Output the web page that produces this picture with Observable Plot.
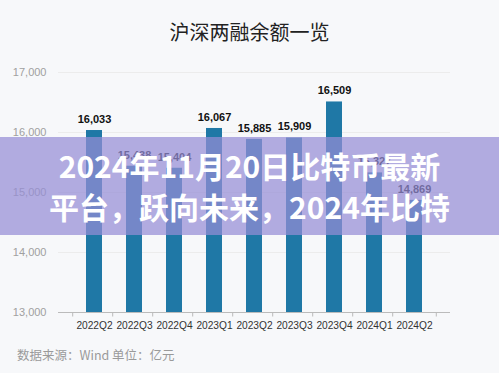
<!DOCTYPE html>
<html>
<head>
<meta charset="utf-8">
<script src="https://cdn.jsdelivr.net/npm/d3@7"></script>
<script src="https://cdn.jsdelivr.net/npm/@observablehq/plot@0.6"></script>
<style>
  html, body { margin: 0; padding: 0; }
  body { width: 499px; height: 373px; background: #f7f8fa; overflow: hidden; font-family: "Liberation Sans", Arial, sans-serif; }
  #wrap { position: relative; width: 499px; height: 373px; }
  #title { position: absolute; left: 0; width: 499px; top: 19px; text-align: center; font-family: "Noto Sans CJK SC", sans-serif; font-size: 20px; color: #222; line-height: 26px; }
  #chart { position: absolute; left: 0; top: 0; }
  #caption { position: absolute; left: 17px; top: 346px; font-family: "Noto Sans CJK SC", sans-serif; font-size: 12.5px; color: #9a9a9a; line-height: 18px; }
  #banner { position: absolute; left: 0; top: 137px; width: 499px; height: 98px; background: rgba(150, 142, 214, 0.72); }
  #banner div { text-align: center; color: #fff; font-family: "Noto Sans CJK SC", sans-serif; font-weight: 700; font-size: 30px; line-height: 41px; }
</style>
</head>
<body>
<div id="wrap">
  <div id="chart"></div>
  <div id="title">沪深两融余额一览</div>
  <div id="banner"><div style="padding-top:8px">2024年11月20日比特币最新<br>平台，跃向未来，2024年比特</div></div>
  <div id="caption">数据来源：Wind&nbsp;单位：亿元</div>
</div>
<script>
const quarters = ["2022Q2","2022Q3","2022Q4","2023Q1","2023Q2","2023Q3","2023Q4","2024Q1","2024Q2"];
const balances = [16033, 15438, 15404, 16067, 15885, 15909, 16509, 15327, 14869];
const yTicks = [13000, 14000, 15000, 16000, 17000];

const data = quarters.map((q, i) => ({q, v: balances[i]}));
const fmt = d3.format(",");

const chart = Plot.plot({
  width: 499,
  height: 340,
  marginTop: 72,
  marginBottom: 28,
  marginLeft: 58,
  marginRight: 49,
  style: { background: "transparent", fontFamily: "'Liberation Sans', Arial, sans-serif" },
  x: { domain: quarters, padding: 0.61, label: null, tickSize: 0, tickPadding: 8 },
  y: { domain: [13000, 17000], ticks: yTicks, tickFormat: fmt, label: null, tickSize: 0, tickPadding: 12 },
  marks: [
    Plot.ruleY(yTicks.filter(t => t > 13000), { stroke: "#ececec", strokeWidth: 1 }),
    Plot.axisY({ ticks: yTicks, tickFormat: fmt, tickSize: 0, tickPadding: 12, fill: "#a0a0a0", fontSize: 11, label: null }),
    Plot.axisX({ tickSize: 0, tickPadding: 9, fill: "#333", fontSize: 10.2, label: null }),
    Plot.barY(data, { x: "q", y1: 13000, y2: "v", fill: "#1f78a6" }),
    Plot.text(data, { x: "q", y: "v", text: d => fmt(d.v), dy: -11, fontWeight: "bold", fontSize: 11, fill: "#111" }),
    Plot.ruleY([13000], { stroke: "#bbb", strokeWidth: 1 }),
    Plot.ruleX(quarters, { x: d => d, y1: 13000, y2: 12925, dx: -21.8, stroke: "#bbb" }),
    Plot.ruleX(quarters.slice(-1), { x: d => d, y1: 13000, y2: 12925, dx: 21.8, stroke: "#bbb" })
  ]
});
document.getElementById("chart").appendChild(chart);
</script>
</body>
</html>
